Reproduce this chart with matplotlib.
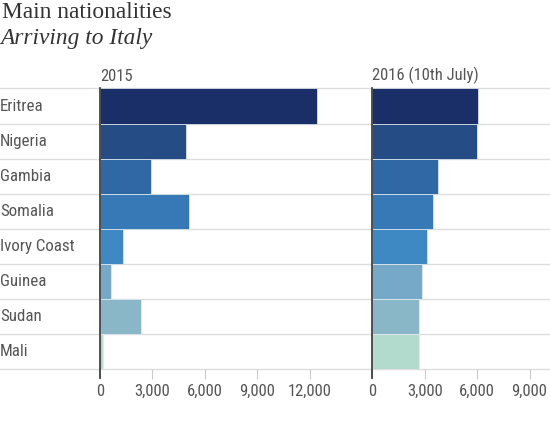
import matplotlib
matplotlib.use("Agg")
import matplotlib.pyplot as plt
from matplotlib.transforms import blended_transform_factory
from matplotlib.lines import Line2D

countries = ["Eritrea", "Nigeria", "Gambia", "Somalia", "Ivory Coast", "Guinea", "Sudan", "Mali"]
values_2015 = [12400, 4950, 2900, 5080, 1300, 630, 2320, 150]
values_2016 = [6080, 5970, 3790, 3460, 3150, 2850, 2660, 2650]
colors = ["#1a2e68", "#264c86", "#2f68a4", "#3679b6", "#3e88c3", "#76a8c8", "#8ab7c8", "#b2dacd"]
ticks_2015 = [0, 3000, 6000, 9000, 12000]
ticks_2016 = [0, 3000, 6000, 9000]
panel_titles = ["2015", "2016 (10th July)"]

W, H = 550, 440
fig = plt.figure(figsize=(W / 100, H / 100), dpi=100)

label_font = ["Roboto Condensed", "DejaVu Sans"]
gray = "#555555"

top_px, bot_px = 88.5, 369.0
px_per_3000 = 52.4

def make_axes(x0, x1):
    ax = fig.add_axes([x0 / W, 1 - bot_px / H, (x1 - x0) / W, (bot_px - top_px) / H])
    ax.set_xlim(0, (x1 - x0) / px_per_3000 * 3000)
    ax.set_ylim(len(countries) - 0.5, -0.5)
    return ax

ax1 = make_axes(100, 330)
ax2 = make_axes(372.3, 550)

for ax, vals, ticks, title in [(ax1, values_2015, ticks_2015, panel_titles[0]),
                               (ax2, values_2016, ticks_2016, panel_titles[1])]:
    ax.barh(range(len(countries)), vals, height=1.0, color=colors,
            edgecolor="#e8eef2", linewidth=0.5, zorder=2)
    for s in ax.spines.values():
        s.set_visible(False)
    ax.set_yticks([])
    ax.set_xticks(ticks)
    ax.set_xticklabels([f"{t:,}" for t in ticks], fontfamily=label_font,
                       fontsize=12, color=gray)
    ax.tick_params(axis="x", length=7, width=0.8, color="#cccccc", pad=3.5)
    # zero line
    ax.plot([0, 0], [-0.5, len(countries) - 0.5 + 0.25], color="#333333",
            lw=1.2, clip_on=False, zorder=3)
    ax.set_facecolor("none")
    ax.text(0, -0.62, title, ha="left", va="bottom", fontfamily=label_font,
            fontsize=12, color=gray)

# horizontal separators across full width
tr = blended_transform_factory(fig.transFigure, ax1.transData)
for b in [i - 0.5 for i in range(len(countries) + 1)]:
    fig.add_artist(Line2D([0, 1], [b, b], transform=tr, color="#dddddd",
                          lw=1.0, zorder=0))

# category labels
for i, c in enumerate(countries):
    ax1.text(0.0, i, c, transform=tr, ha="left", va="center",
             fontfamily=label_font, fontsize=12.2, color=gray)

fig.text(0.004, 1 - 13 / H, "Main nationalities", fontfamily="Liberation Serif",
         fontsize=16.8, color="#333333", va="center", ha="left")
fig.text(0.0, 1 - 38 / H, "Arriving to Italy", fontfamily="Liberation Serif",
         fontstyle="italic", fontsize=16.8, color="#333333", va="center", ha="left")

fig.savefig("out.png", dpi=100)
